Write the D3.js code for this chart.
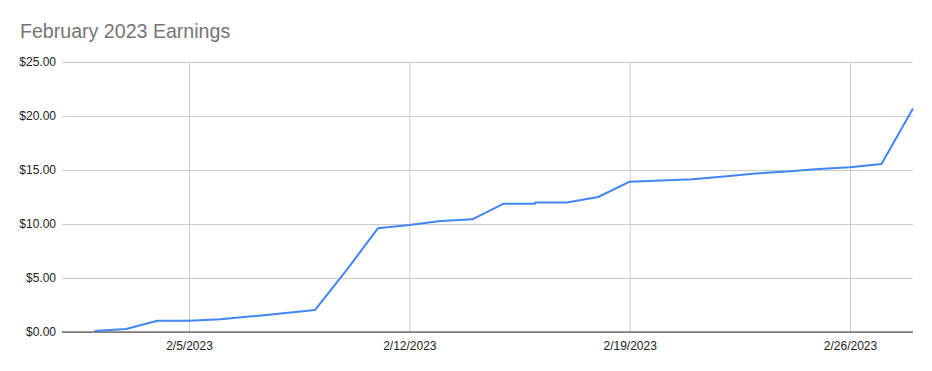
<!DOCTYPE html>
<html><head><meta charset="utf-8">
<script src="https://cdn.jsdelivr.net/npm/d3@7"></script>
<style>body{margin:0;background:#fff;font-family:"Liberation Sans",Arial,sans-serif;}</style>
</head><body><svg id="c" width="932" height="371"></svg>
<script>
const dates = ["2023-02-02","2023-02-03","2023-02-04","2023-02-05","2023-02-06","2023-02-07","2023-02-08","2023-02-09","2023-02-10","2023-02-11","2023-02-12","2023-02-13","2023-02-14","2023-02-15","2023-02-16","2023-02-16","2023-02-17","2023-02-18","2023-02-19","2023-02-20","2023-02-21","2023-02-22","2023-02-23","2023-02-24","2023-02-25","2023-02-26","2023-02-27","2023-02-28"];
const earnings = [0.1,0.28,1.05,1.05,1.18,1.45,1.74,2.03,5.7,9.6,9.9,10.28,10.43,11.88,11.88,12.0,12.0,12.5,13.92,14.03,14.15,14.4,14.68,14.85,15.1,15.25,15.55,20.7];
const yTicks = [0,5,10,15,20,25];
const xTicks = ["2023-02-05","2023-02-12","2023-02-19","2023-02-26"];
const title = "February 2023 Earnings";

const parse = d3.utcParse("%Y-%m-%d");
const data = dates.map((d,i)=>({date:parse(d), v:earnings[i]}));
const svg = d3.select("#c");
const L=62, R=913, T=62, B=332;

const x = d3.scaleUtc().domain([parse(xTicks[0]), parse(xTicks[3])]).range([189, 850]);
const y = d3.scaleLinear().domain([0,25]).range([B,T]);
const fmtY = v => "$" + v.toFixed(2);
const fmtX = d3.utcFormat("%-m/%-d/%Y");

svg.append("text").attr("x",20).attr("y",38).attr("fill","#757575")
  .attr("font-size",19.6).attr("font-family","'Liberation Sans',Arial,sans-serif").text(title);

const yAxis = svg.append("g").attr("transform",`translate(${L},0)`)
  .call(d3.axisLeft(y).tickValues(yTicks).tickFormat(fmtY).tickSize(-(R-L)).tickPadding(6));
yAxis.select(".domain").remove();
yAxis.selectAll(".tick line").attr("stroke","#cccccc");
yAxis.selectAll(".tick text").attr("fill","#222").attr("font-size",12).attr("font-family","'Liberation Sans',Arial,sans-serif");

const xAxis = svg.append("g").attr("transform",`translate(0,${B})`)
  .call(d3.axisBottom(x).tickValues(xTicks.map(parse)).tickFormat(fmtX).tickSize(-(B-T)).tickPadding(9));
xAxis.select(".domain").remove();
xAxis.selectAll(".tick line").attr("stroke","#cccccc");
xAxis.selectAll(".tick text").attr("fill","#222").attr("font-size",12).attr("font-family","'Liberation Sans',Arial,sans-serif");

svg.append("line").attr("x1",L).attr("x2",R).attr("y1",y(0)).attr("y2",y(0)).attr("stroke","#333").attr("stroke-width",1);

svg.append("path").datum(data)
  .attr("fill","none").attr("stroke","#4285f4").attr("stroke-width",2).attr("stroke-linejoin","round")
  .attr("d", d3.line().x(d=>x(d.date)).y(d=>y(d.v)));
</script></body></html>
